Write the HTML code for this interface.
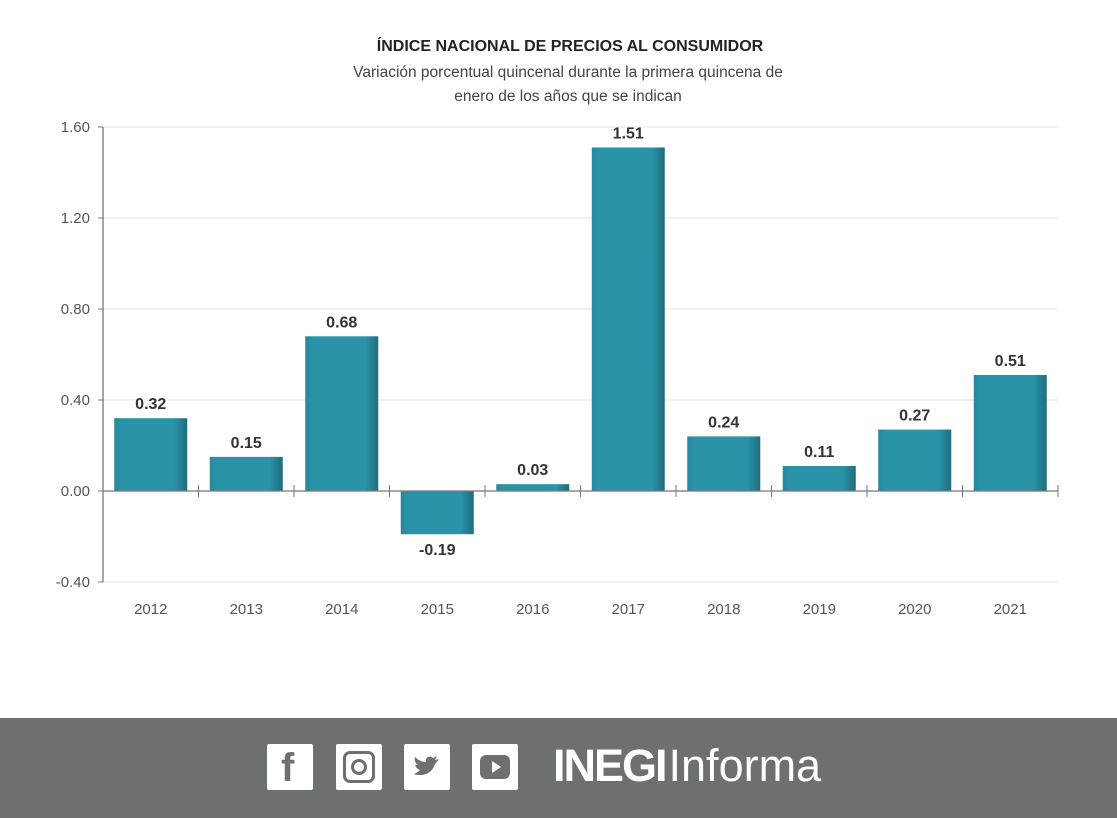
<!DOCTYPE html>
<html><head><meta charset="utf-8">
<style>
body{margin:0;width:1117px;height:818px;background:#fff;overflow:hidden;font-family:"Liberation Sans",sans-serif;position:relative}
#footer{position:absolute;left:0;top:718px;width:1117px;height:100px;background:#6d7071}
.ic{position:absolute;top:26px;width:46px;height:46px;background:#fff;border-radius:2px}
</style></head><body>
<svg id="chart" width="1117" height="718" style="position:absolute;left:0;top:0">
<defs>
<linearGradient id="bg" x1="0" x2="1" y1="0" y2="0">
<stop offset="0" stop-color="#2688a0"/><stop offset="0.1" stop-color="#2b93a7"/><stop offset="0.82" stop-color="#2b93a7"/><stop offset="1" stop-color="#1d6d7e"/>
</linearGradient>
</defs>
<text x="570" y="51" text-anchor="middle" font-size="16" font-weight="bold" fill="#222">ÍNDICE NACIONAL DE PRECIOS AL CONSUMIDOR</text>
<text x="568" y="77" text-anchor="middle" font-size="15.5" fill="#444">Variación porcentual quincenal durante la primera quincena de</text>
<text x="568" y="101" text-anchor="middle" font-size="15.5" fill="#444">enero de los años que se indican</text>
<g id="g"></g>
</svg>
<div id="footer">
 <div class="ic" style="left:267px"><span style="position:absolute;left:14px;top:2px;font:bold 40px 'Liberation Sans';color:#6d7071">f</span></div>
 <div class="ic" style="left:336px"><div style="position:absolute;left:7px;top:7px;width:26px;height:26px;border:3px solid #6d7071;border-radius:7px"></div><div style="position:absolute;left:15px;top:15px;width:10px;height:10px;border:3px solid #6d7071;border-radius:50%"></div></div>
 <div class="ic" style="left:404px"><svg width="46" height="46"><path d="M10 30 C18 33 28 30 31 20 L35 15 L31 16 L33 12 L29 14 C26 11 21 13 22 18 C17 18 13 15 11 13 C10 17 12 20 14 21 L11 21 C12 24 14 25 16 26 C14 28 12 29 10 30 Z" fill="#6d7071"/></svg></div>
 <div class="ic" style="left:472px"><div style="position:absolute;left:8px;top:11px;width:30px;height:24px;background:#6d7071;border-radius:6px"></div><div style="position:absolute;left:20px;top:17px;width:0;height:0;border-left:9px solid #fff;border-top:6px solid transparent;border-bottom:6px solid transparent"></div></div>
 <div style="position:absolute;left:553px;top:22px;color:#fff;font-size:45px;white-space:nowrap"><span style="font-weight:bold;letter-spacing:-2px">INEGI</span><span style="margin-left:3px">Informa</span></div>
</div>
<script>
const categories=["2012","2013","2014","2015","2016","2017","2018","2019","2020","2021"];
const values=[0.32,0.15,0.68,-0.19,0.03,1.51,0.24,0.11,0.27,0.51];
const labels=["0.32","0.15","0.68","-0.19","0.03","1.51","0.24","0.11","0.27","0.51"];
const ticks=[-0.4,0,0.4,0.8,1.2,1.6];
const tickLabels=["-0.40","0.00","0.40","0.80","1.20","1.60"];
const X0=103,X1=1058,bw=(X1-X0)/categories.length;
const y=v=>491-v*227.5;
const xc=i=>X0+bw*(i+0.5);
const g=document.getElementById('g'),NS="http://www.w3.org/2000/svg";
function mk(t,a,txt){const e=document.createElementNS(NS,t);for(const k in a)e.setAttribute(k,a[k]);if(txt!=null)e.textContent=txt;g.appendChild(e);return e;}
ticks.forEach((t,i)=>{
 if(t!==0){const l=mk('line',{x1:X0,x2:X1,y1:y(t),y2:y(t),stroke:'#e6e6e6','stroke-width':1});
 
 }
 const tk=mk('line',{x1:X0-5,x2:X0,y1:y(t),y2:y(t),stroke:'#777'});
 
 
 const tl=mk('text',{x:X0-13,y:y(t)+5,'text-anchor':'end','font-size':15,fill:'#555'},tickLabels[i]);
 
 
});
values.forEach((v,i)=>{
 const top=Math.min(y(v),y(0)),h=Math.abs(y(v)-y(0));
 const r=mk('rect',{x:xc(i)-36.5,y:top,width:73,height:h,fill:'url(#bg)'});
 
 
 const ly=v>=0?y(v)-9:y(v)+21;
 const t=mk('text',{x:xc(i),y:ly,'text-anchor':'middle','font-size':16,'font-weight':'bold',fill:'#333'},labels[i]);
 
 
 const c=mk('text',{x:xc(i),y:614,'text-anchor':'middle','font-size':15,fill:'#555'},categories[i]);
 
 
});
for(let i=1;i<=categories.length;i++){
 const tk=mk('line',{x1:X0+bw*i,x2:X0+bw*i,y1:y(0)-6,y2:y(0)+6,stroke:'#777'});
 
 
}
const ya=mk('line',{x1:X0,x2:X0,y1:y(1.6),y2:y(-0.4),stroke:'#777','stroke-width':1.3});


const xa=mk('line',{x1:X0,x2:X1,y1:y(0),y2:y(0),stroke:'#777','stroke-width':1.3});


</script>
</body></html>
